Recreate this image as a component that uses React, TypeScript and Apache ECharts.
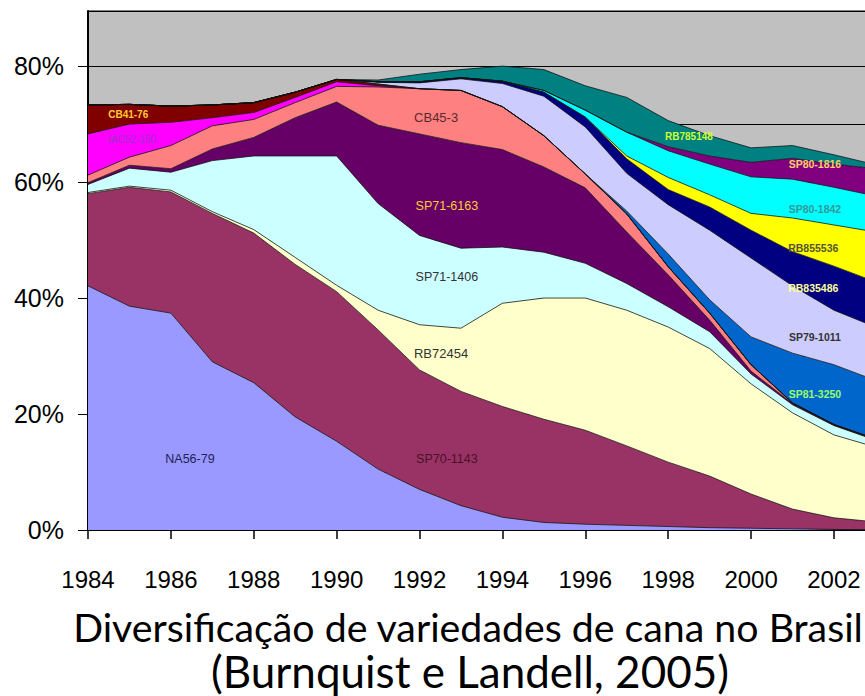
import React, { useEffect, useRef } from 'react';
import * as echarts from 'echarts';

// ---------- data (percent of area, 1984..2003) ----------
const years = [1984, 1985, 1986, 1987, 1988, 1989, 1990, 1991, 1992, 1993, 1994, 1995, 1996, 1997, 1998, 1999, 2000, 2001, 2002, 2003];

const NA56_79 = [42.1, 38.6, 37.4, 29.0, 25.4, 19.5, 15.3, 10.5, 7.0, 4.2, 2.2, 1.3, 1.0, 0.8, 0.6, 0.4, 0.3, 0.2, 0.1, 0.05];
const SP70_1143 = [15.9, 20.5, 20.9, 25.6, 25.8, 26.3, 25.8, 24.0, 20.6, 19.7, 19.1, 17.8, 16.2, 13.7, 11.1, 8.9, 5.9, 3.4, 2.0, 1.35];
const RB72454 = [0.2, 0.2, 0.3, 0.3, 0.6, 1.2, 1.1, 3.4, 7.8, 10.9, 17.8, 20.9, 22.8, 23.4, 23.3, 22.0, 19.0, 16.6, 14.3, 12.9];
const SP71_1406 = [1.4, 3.1, 3.1, 8.8, 12.7, 17.5, 22.3, 18.4, 15.4, 13.8, 9.7, 7.9, 6.0, 4.6, 3.5, 2.9, 1.7, 1.4, 1.6, 1.2];
const SP71_6163 = [0.3, 0.5, 0.6, 2.0, 3.2, 6.6, 9.3, 13.5, 17.5, 18.2, 16.8, 14.7, 13.0, 8.9, 5.5, 2.0, 0.5, 0.2, 0.1, 0.1];
const CB45_3 = [1.3, 1.4, 4.0, 4.0, 3.1, 2.6, 2.7, 6.6, 7.8, 9.0, 7.4, 5.4, 2.4, 3.1, 1.4, 1.2, 1.1, 0.1, 0.1, 0.1];
const IAC52_150 = [7.1, 5.7, 4.0, 1.4, 1.2, 0.9, 0.8, 0.2, 0, 0, 0, 0, 0, 0, 0, 0, 0, 0, 0, 0];
const CB41_76 = [5.0, 3.4, 2.8, 2.2, 1.7, 0.9, 0.4, 0.3, 0, 0, 0, 0, 0, 0, 0, 0, 0, 0, 0, 0];
const SP81_3250 = [0, 0, 0, 0, 0, 0, 0, 0, 0, 0, 0, 0, 0, 0.5, 2.2, 2.3, 4.8, 8.6, 10.3, 10.1];
const SP79_1011 = [0, 0, 0, 0, 0, 0, 0, 0.3, 1.0, 2.0, 4.0, 6.8, 8.1, 6.5, 8.5, 12.0, 13.6, 11.6, 9.4, 9.2];
const RB835486 = [0, 0, 0, 0, 0, 0, 0, 0.1, 0.2, 0.2, 0.4, 0.7, 1.7, 2.5, 2.6, 4.0, 4.8, 5.9, 7.6, 7.8];
const RB855536 = [0, 0, 0, 0, 0, 0, 0, 0, 0, 0, 0, 0, 0, 0.5, 2.1, 2.1, 2.9, 5.8, 7.1, 8.6];
const SP80_1842 = [0, 0, 0, 0, 0, 0, 0, 0, 0, 0, 0, 0.3, 1.2, 4.1, 4.6, 5.3, 6.3, 6.7, 6.5, 6.2];
const SP80_1816 = [0, 0, 0, 0, 0, 0, 0, 0, 0, 0, 0, 0, 0, 0, 0.7, 1.4, 2.5, 3.6, 4.0, 4.7];
const RB785148 = [0, 0, 0, 0, 0, 0, 0, 0.3, 1.3, 1.4, 2.6, 3.6, 4.2, 6.0, 4.5, 3.5, 2.5, 2.2, 1.6, 0.7];

const yTickLabels = [0, 20, 40, 60, 80];

const titleLines = ['Diversificação de variedades de cana no Brasil', '(Burnquist e Landell, 2005)'];

// series: name, values, colour (stack order bottom -> top)
const seriesDefs: [string, number[], string][] = [
  ['NA56-79', NA56_79, '#9999FF'],
  ['SP70-1143', SP70_1143, '#993366'],
  ['RB72454', RB72454, '#FFFFCC'],
  ['SP71-1406', SP71_1406, '#CCFFFF'],
  ['SP71-6163', SP71_6163, '#660066'],
  ['CB45-3', CB45_3, '#FF8080'],
  ['IAC52-150', IAC52_150, '#FF00FF'],
  ['CB41-76', CB41_76, '#800000'],
  ['SP81-3250', SP81_3250, '#0066CC'],
  ['SP79-1011', SP79_1011, '#CCCCFF'],
  ['RB835486', RB835486, '#000080'],
  ['RB855536', RB855536, '#FFFF00'],
  ['SP80-1842', SP80_1842, '#00FFFF'],
  ['SP80-1816', SP80_1816, '#800080'],
  ['RB785148', RB785148, '#008080'],
];

// in-area labels, anchored in data space (year, percent)
const areaLabels: { text: string; at: [number, number]; color: string; size: number; bold: boolean }[] = [
  { text: 'CB41-76', at: [1984.97, 71.7], color: '#FFCC33', size: 10, bold: true },
  { text: 'IAC52-150', at: [1985.06, 67.4], color: '#9933CC', size: 10, bold: false },
  { text: 'CB45-3', at: [1992.4, 71.2], color: '#5a2a2a', size: 13, bold: false },
  { text: 'SP71-6163', at: [1992.66, 55.9], color: '#FFCC33', size: 12.5, bold: false },
  { text: 'SP71-1406', at: [1992.66, 43.6], color: '#333333', size: 12.5, bold: false },
  { text: 'RB72454', at: [1992.52, 30.5], color: '#333333', size: 13, bold: false },
  { text: 'SP70-1143', at: [1992.66, 12.2], color: '#4a1028', size: 12.5, bold: false },
  { text: 'NA56-79', at: [1986.46, 12.2], color: '#22225a', size: 12.5, bold: false },
  { text: 'RB785148', at: [1998.5, 67.9], color: '#CCFF33', size: 10, bold: true },
  { text: 'SP80-1816', at: [2001.54, 63.1], color: '#FFCC66', size: 10.5, bold: true },
  { text: 'SP80-1842', at: [2001.54, 55.3], color: '#339999', size: 10.5, bold: true },
  { text: 'RB855536', at: [2001.5, 48.6], color: '#555533', size: 10.5, bold: true },
  { text: 'RB835486', at: [2001.5, 41.7], color: '#FFFF99', size: 10.5, bold: true },
  { text: 'SP79-1011', at: [2001.54, 33.3], color: '#333333', size: 10.5, bold: true },
  { text: 'SP81-3250', at: [2001.54, 23.4], color: '#99FF66', size: 10.5, bold: true },
];

const SANS = '"Liberation Sans", Arial, sans-serif';
const TITLE_FONT = 'Lato, "Open Sans", sans-serif';

export default function App() {
  const ref = useRef<HTMLDivElement>(null);

  useEffect(() => {
    if (!ref.current) return;
    const chart = echarts.init(ref.current, undefined, { renderer: 'svg' });

    const option: any = {
      animation: false,
      backgroundColor: '#ffffff',
      grid: {
        left: 88,
        right: -10.4,
        top: 11,
        bottom: 166,
        show: true,
        backgroundColor: '#C0C0C0',
        borderColor: '#000',
        borderWidth: 1,
        outerBoundsMode: 'none',
      },
      xAxis: {
        type: 'category',
        data: years.map(String),
        boundaryGap: false,
        axisLine: { show: true, onZero: false, lineStyle: { color: '#000', width: 2 } },
        axisTick: { show: true, interval: 1, length: 9, lineStyle: { color: '#000', width: 1.5 } },
        axisLabel: {
          interval: 1,
          showMinLabel: true,
          color: '#000',
          fontSize: 24,
          fontFamily: SANS,
          margin: 37,
        },
        splitLine: { show: false },
      },
      yAxis: [
        {
          type: 'value',
          min: 0,
          max: 89.5,
          interval: 10,
          axisLine: { show: true, lineStyle: { color: '#000', width: 2 } },
          axisTick: { show: true, length: 10, customValues: yTickLabels, lineStyle: { color: '#000', width: 1 } },
          axisLabel: {
            customValues: yTickLabels,
            color: '#000',
            fontSize: 25,
            fontFamily: SANS,
            margin: 24,
            formatter: (v: number) => v + '%',
          },
          splitLine: { show: false },
        },
        {
          // gridlines every 10 %
          type: 'value',
          position: 'left',
          min: 0,
          max: 89.5,
          interval: 10,
          axisLine: { show: false },
          axisTick: { show: false },
          axisLabel: { show: false },
          splitLine: { show: true, lineStyle: { color: '#000', width: 1 } },
        },
      ],
      series: seriesDefs.map(([name, vals, color]) => ({
        name,
        type: 'line',
        stack: 'total',
        symbol: 'none',
        clip: true,
        yAxisIndex: 0,
        data: vals,
        lineStyle: { color: '#111', width: 0.9, opacity: 0.85 },
        areaStyle: { color, opacity: 1 },
        itemStyle: { color },
        emphasis: { disabled: true },
      })),
    };
    chart.setOption(option);

    const p0 = chart.convertToPixel({ xAxisIndex: 0, yAxisIndex: 0 }, [0, 0]) as number[];
    const p1 = chart.convertToPixel({ xAxisIndex: 0, yAxisIndex: 0 }, [1, 0]) as number[];
    const step = p1[0] - p0[0];

    const graphics: any[] = areaLabels.map((l) => {
      const py = chart.convertToPixel({ yAxisIndex: 0 }, l.at[1]) as number;
      const px = p0[0] + (l.at[0] - years[0]) * step;
      return {
        type: 'text',
        x: px,
        y: py,
        z: 100,
        style: {
          text: l.text,
          fill: l.color,
          fontSize: l.size,
          fontWeight: l.bold ? 'bold' : 'normal',
          fontFamily: SANS,
          align: 'center',
          verticalAlign: 'middle',
        },
      };
    });
    graphics.push(
      {
        type: 'text', x: 468, y: 626, z: 100,
        style: { text: titleLines[0], fill: '#000', fontSize: 39.3, fontFamily: TITLE_FONT, align: 'center', verticalAlign: 'middle' },
      },
      {
        type: 'text', x: 470, y: 671, z: 100,
        style: { text: titleLines[1], fill: '#000', fontSize: 44, fontFamily: TITLE_FONT, align: 'center', verticalAlign: 'middle' },
      }
    );
    chart.setOption({ graphic: graphics });

    return () => chart.dispose();
  }, []);

  return (
    <div
      ref={ref}
      style={{ position: 'absolute', left: 0, top: 0, width: 865, height: 696, overflow: 'hidden', background: '#fff' }}
    />
  );
}
